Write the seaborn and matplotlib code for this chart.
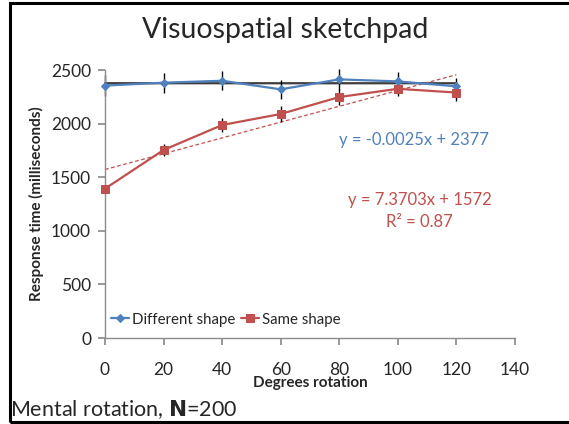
import numpy as np
import pandas as pd
import matplotlib
matplotlib.use("Agg")
import matplotlib.pyplot as plt
import seaborn as sns

degrees = [0, 20, 40, 60, 80, 100, 120]
different_rt = [2355, 2382, 2400, 2320, 2413, 2394, 2348]
different_err = [95, 93, 90, 90, 95, 92, 80]
same_rt = [1393, 1754, 1987, 2090, 2248, 2325, 2290]
same_err = [0, 55, 62, 73, 75, 67, 80]

diff_fit = (-0.0025, 2377)
same_fit = (7.3703, 1572)

blue = "#4F81BD"
red = "#C0504D"

sns.set_theme(style="white")
plt.rcParams["font.family"] = ["Lato", "DejaVu Sans"]

fig = plt.figure(figsize=(5.69, 4.24), dpi=100)
ax = fig.add_axes([0.1845, 0.2028, 0.7205, 0.632])

df = pd.DataFrame({"deg": degrees, "diff": different_rt, "same": same_rt})

# trendlines
xs = np.array([0, 120])
ax.plot(xs, diff_fit[0] * xs + diff_fit[1], color="#3c3c3c", lw=1.6, zorder=1)
ax.plot(xs, same_fit[0] * xs + same_fit[1], color=red, lw=0.9, ls=(0, (3, 2)), zorder=1)

# error bars
ax.errorbar(degrees, different_rt, yerr=different_err, fmt="none", ecolor="black",
            elinewidth=1, capsize=0, zorder=2, clip_on=False)
ax.errorbar(degrees, same_rt, yerr=same_err, fmt="none", ecolor="black",
            elinewidth=1, capsize=0, zorder=2, clip_on=False)

sns.lineplot(data=df, x="deg", y="diff", ax=ax, color=blue, marker="D", markersize=4,
             markeredgecolor=blue, lw=1.6, label="Different shape", zorder=3)
sns.lineplot(data=df, x="deg", y="same", ax=ax, color=red, marker="s", markersize=6,
             markeredgecolor=red, lw=1.6, label="Same shape", zorder=3)
for ln in ax.lines:
    ln.set_clip_on(False)

ax.set_xlim(0, 140)
ax.set_ylim(0, 2500)
ax.set_xticks(range(0, 141, 20))
ax.set_yticks(range(0, 2501, 500))
ax.tick_params(axis="both", direction="out", length=5, color="#8c8c8c", labelsize=12.5,
               left=True, bottom=True)
ax.tick_params(axis="x", pad=12)
ax.tick_params(axis="y", pad=5)
for side in ["top", "right"]:
    ax.spines[side].set_visible(False)
for side in ["left", "bottom"]:
    ax.spines[side].set_color("#8c8c8c")
    ax.spines[side].set_linewidth(1)

ax.set_xlabel("Degrees rotation", fontsize=11, fontweight="bold", labelpad=-1)
ax.set_ylabel("Response time (milliseconds)", fontsize=11, fontweight="bold", labelpad=5)

ax.legend(loc="lower left", ncol=2, frameon=False, fontsize=10.8, handlelength=1.2,
          handletextpad=0.2, columnspacing=0.4, bbox_to_anchor=(0.0, 0.02),
          borderaxespad=0)

ax.text(105.5, 1847, "y = -0.0025x + 2377", color=blue, fontsize=12, ha="center", va="center")
ax.text(107.5, 1287, "y = 7.3703x + 1572", color=red, fontsize=12, ha="center", va="center")
ax.text(107.5, 1082, "R² = 0.87", color=red, fontsize=12, ha="center", va="center")

fig.text(0.502, 0.93, "Visuospatial sketchpad", fontsize=20.5, ha="center", va="center")
fig.text(0.018, 0.033, "Mental rotation, $\\mathbf{N}$=200", fontsize=15.5, ha="left", va="center")

# frame around the figure
frame = plt.Rectangle((0.017, 0.004), 1.0, 0.99, transform=fig.transFigure, fill=False,
                      edgecolor="black", lw=2.2)
fig.patches.append(frame)

plt.savefig("out.png", dpi=100)
